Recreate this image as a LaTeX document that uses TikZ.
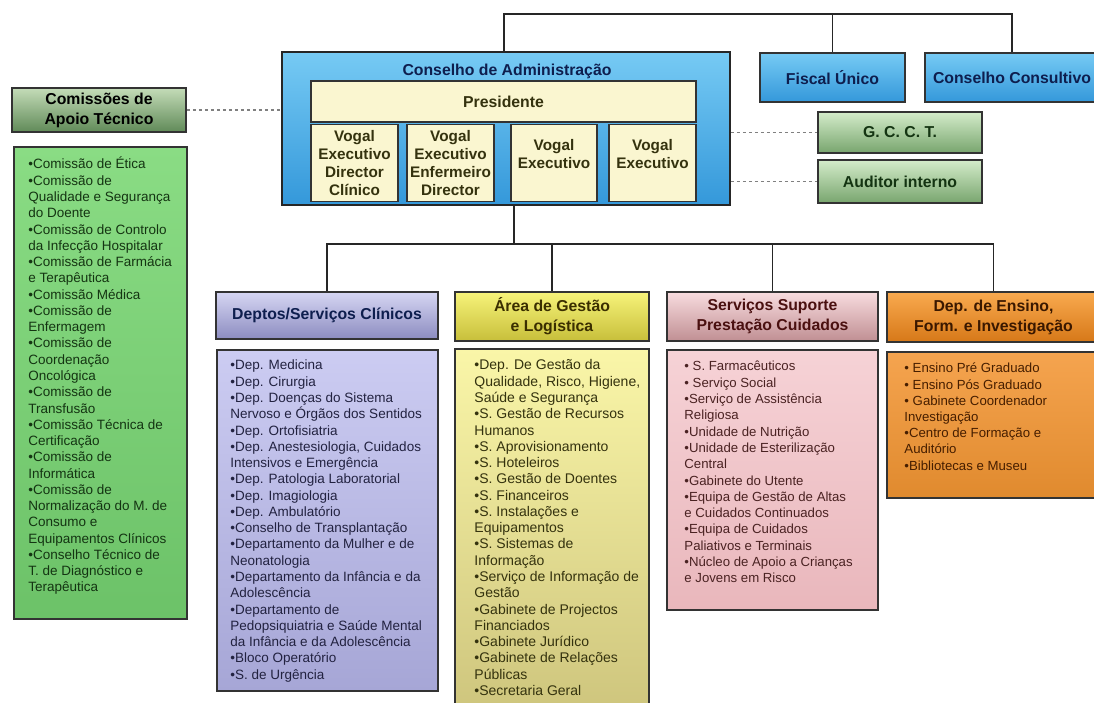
\documentclass[tikz,border=0pt]{standalone}
\usepackage{fontspec}
\setmainfont{Liberation Sans}
\usetikzlibrary{positioning}
\definecolor{navy}{RGB}{14,30,78}
\definecolor{cream}{RGB}{250,246,208}
\definecolor{olivetext}{RGB}{52,50,14}
\definecolor{skytop}{RGB}{118,202,244}
\definecolor{skybot}{RGB}{52,152,218}
\definecolor{mossdark}{RGB}{20,52,18}
\definecolor{greenlist}{RGB}{138,220,132}
\definecolor{greenlistb}{RGB}{108,194,104}
\definecolor{lavtop}{RGB}{214,214,243}
\definecolor{lavbot}{RGB}{140,140,192}
\definecolor{lavlist}{RGB}{204,204,242}
\definecolor{lavlistb}{RGB}{166,166,214}
\definecolor{yeltop}{RGB}{247,243,122}
\definecolor{yelbot}{RGB}{199,191,58}
\definecolor{yellist}{RGB}{250,246,168}
\definecolor{yellistb}{RGB}{205,196,124}
\definecolor{pinktop}{RGB}{248,220,223}
\definecolor{pinkbot}{RGB}{192,143,147}
\definecolor{pinklist}{RGB}{246,210,214}
\definecolor{pinklistb}{RGB}{233,183,188}
\definecolor{orgtop}{RGB}{249,170,79}
\definecolor{orgbot}{RGB}{214,120,24}
\definecolor{orglist}{RGB}{245,164,79}
\definecolor{orglistb}{RGB}{224,138,46}

% first line of a list starts 13pt below the node top
\newcommand{\liststrut}{\rule{0pt}{13pt}}

\tikzset{
  box/.style={draw=black!80, line width=1.5pt, inner sep=0pt, align=center},
  title/.style={font=\bfseries\fontsize{15.8}{20}\selectfont},
  vogal/.style={box, fill=cream, text=olivetext, minimum width=87pt, minimum height=77pt,
    font=\bfseries\fontsize{15.3}{18.3}\selectfont},
  listtext/.style={anchor=north west, align=left, inner sep=0pt, font=\fontsize{13.5}{16.27}\selectfont},
  link/.style={line width=1.5pt, black!85},
  dots/.style={line width=1.5pt, gray, dash pattern=on 3pt off 3pt},
}

\begin{document}
\begin{tikzpicture}[x=1pt, y=-1pt]
    \useasboundingbox (0,0) rectangle (1094,702);
    \clip (0,0) rectangle (1094,702);

    % board of directors
    \node[box, draw=black!85, top color=skytop, bottom color=skybot, minimum width=448pt, minimum height=153pt] (cons) at (506,128.5) {};
    \node[title, text=navy] (constitle) at (507,71) {Conselho de Administração};
    \node[box, fill=cream, title, text=olivetext, minimum width=385pt, minimum height=41pt] (pres) at (503.5,101.5) {Presidente};
    \node[vogal] (vog1) at (354.5,163) {Vogal\\Executivo\\Director\\Clínico};
    \node[vogal] (vog2) at (450.5,163) {Vogal\\Executivo\\Enfermeiro\\Director};
    \node[vogal, minimum width=86pt] (vog3) at (554,163) {Vogal\\Executivo\\~};
    \node[vogal] (vog4) at (652.5,163) {Vogal\\Executivo\\~};

    \node[box, title, text=navy, top color=skytop, bottom color=skybot, minimum width=145pt, minimum height=49pt] (fiscal) at (832.5,77.5) {Fiscal Único};
    \node[box, title, text=navy, top color=skytop, bottom color=skybot, minimum width=174pt, minimum height=49pt] (consult) at (1012,77.5) {Conselho Consultivo};

    \node[box, title, text=mossdark, top color={rgb,255:red,212;green,236;blue,202}, bottom color={rgb,255:red,120;green,165;blue,110}, minimum width=164pt, minimum height=41pt] (gcct) at (900,132.5) {G. C. C. T.};
    \node[box, title, text=mossdark, top color={rgb,255:red,212;green,236;blue,202}, bottom color={rgb,255:red,120;green,165;blue,110}, minimum width=164pt, minimum height=43pt] (audit) at (900,181.5) {Auditor interno};

    % committees
    \node[box, title, text=black, top color={rgb,255:red,196;green,220;blue,184}, bottom color={rgb,255:red,96;green,138;blue,88}, minimum width=174pt, minimum height=44pt] (comis) at (99,110) {Comissões de\\Apoio Técnico};
    \node[box, top color=greenlist, bottom color=greenlistb, minimum width=173pt, minimum height=472pt] (comlist) at (100.5,383) {};
    \node[listtext, text=mossdark] (comtext) at ([shift={(15,9.5)}]comlist.north west) {%
      \liststrut•Comissão de Ética\\
      •Comissão de\\
      Qualidade e Segurança\\
      do Doente\\
      •Comissão de Controlo\\
      da Infecção Hospitalar\\
      •Comissão de Farmácia\\
      e Terapêutica\\
      •Comissão Médica\\
      •Comissão de\\
      Enfermagem\\
      •Comissão de\\
      Coordenação\\
      Oncológica\\
      •Comissão de\\
      Transfusão\\
      •Comissão Técnica de\\
      Certificação\\
      •Comissão de\\
      Informática\\
      •Comissão de\\
      Normalização do M. de\\
      Consumo e\\
      Equipamentos Clínicos\\
      •Conselho Técnico de\\
      T. de Diagnóstico e\\
      Terapêutica};

    % departments
    \node[box, title, text=navy, top color=lavtop, bottom color=lavbot, minimum width=222pt, minimum height=47pt] (hdA) at (327,315.5) {Deptos/Serviços Clínicos};
    \node[box, title, text={rgb,255:red,58;green,46;blue,0}, top color=yeltop, bottom color=yelbot, minimum width=194pt, minimum height=49pt] (hdB) at (552,316.5) {Área de Gestão\\e Logística};
    \node[box, title, text={rgb,255:red,74;green,16;blue,16}, top color=pinktop, bottom color=pinkbot, minimum width=211pt, minimum height=49pt] (hdC) at (772.5,316.5) {Serviços Suporte\\Prestação Cuidados};
    \node[box, title, text={rgb,255:red,58;green,24;blue,0}, top color=orgtop, bottom color=orgbot, minimum width=213pt, minimum height=50pt] (hdD) at (993.5,317) {Dep. de Ensino,\\Form. e Investigação};

    \node[box, top color=lavlist, bottom color=lavlistb, minimum width=221pt, minimum height=341pt] (lsA) at (327.5,520.5) {};
    \node[listtext, text={rgb,255:red,34;green,34;blue,64}] (txA) at ([shift={(14,7.5)}]lsA.north west) {%
      \liststrut•Dep. Medicina\\
      •Dep. Cirurgia\\
      •Dep. Doenças do Sistema\\
      Nervoso e Órgãos dos Sentidos\\
      •Dep. Ortofisiatria\\
      •Dep. Anestesiologia, Cuidados\\
      Intensivos e Emergência\\
      •Dep. Patologia Laboratorial\\
      •Dep. Imagiologia\\
      •Dep. Ambulatório\\
      •Conselho de Transplantação\\
      •Departamento da Mulher e de\\
      Neonatologia\\
      •Departamento da Infância e da\\
      Adolescência\\
      •Departamento de\\
      Pedopsiquiatria e Saúde Mental\\
      da Infância e da Adolescência\\
      •Bloco Operatório\\
      •S. de Urgência};

    \node[box, top color=yellist, bottom color=yellistb, minimum width=194pt, minimum height=371pt] (lsB) at (552,534.5) {};
    \node[listtext, text=olivetext, font=\fontsize{14}{16.27}\selectfont] (txB) at ([shift={(20,8.5)}]lsB.north west) {%
      \liststrut•Dep. De Gestão da\\
      Qualidade, Risco, Higiene,\\
      Saúde e Segurança\\
      •S. Gestão de Recursos\\
      Humanos\\
      •S. Aprovisionamento\\
      •S. Hoteleiros\\
      •S. Gestão de Doentes\\
      •S. Financeiros\\
      •S. Instalações e\\
      Equipamentos\\
      •S. Sistemas de\\
      Informação\\
      •Serviço de Informação de\\
      Gestão\\
      •Gabinete de Projectos\\
      Financiados\\
      •Gabinete Jurídico\\
      •Gabinete de Relações\\
      Públicas\\
      •Secretaria Geral};

    \node[box, top color=pinklist, bottom color=pinklistb, minimum width=211pt, minimum height=260pt] (lsC) at (772.5,480) {};
    \node[listtext, text={rgb,255:red,74;green,34;blue,34}, font=\fontsize{13.2}{16.3}\selectfont] (txC) at ([shift={(18,8.5)}]lsC.north west) {%
      \liststrut• S. Farmacêuticos\\
      • Serviço Social\\
      •Serviço de Assistência\\
      Religiosa\\
      •Unidade de Nutrição\\
      •Unidade de Esterilização\\
      Central\\
      •Gabinete do Utente\\
      •Equipa de Gestão de Altas\\
      e Cuidados Continuados\\
      •Equipa de Cuidados\\
      Paliativos e Terminais\\
      •Núcleo de Apoio a Crianças\\
      e Jovens em Risco};

    \node[box, top color=orglist, bottom color=orglistb, minimum width=213pt, minimum height=146pt] (lsD) at (993.5,425) {};
    \node[listtext, text={rgb,255:red,70;green,30;blue,0}, font=\fontsize{13.2}{16.2}\selectfont] (txD) at ([shift={(18,8.5)}]lsD.north west) {%
      \liststrut• Ensino Pré Graduado\\
      • Ensino Pós Graduado\\
      • Gabinete Coordenador\\
      Investigação\\
      •Centro de Formação e\\
      Auditório\\
      •Bibliotecas e Museu};

    % connectors
    \coordinate (tophub) at (504,14);
    \draw[link] (tophub |- cons.north) -- (tophub) -| (fiscal.north);
    \draw[link] (tophub) -| (consult.north);
    \coordinate (bus) at (514,244);
    \draw[link] (bus |- cons.south) -- (bus);
    \draw[link] (hdA.north) |- (bus) -| (hdD.north);
    \draw[link] (bus -| hdB.north) -- (hdB.north);
    \draw[link] (bus -| hdC.north) -- (hdC.north);

    \draw[dots] (comis.east) -- (comis.east -| cons.west);
    \draw[dots] (gcct.west -| cons.east) -- (gcct.west);
    \draw[dots] (audit.west -| cons.east) -- (audit.west);
\end{tikzpicture}
\end{document}
